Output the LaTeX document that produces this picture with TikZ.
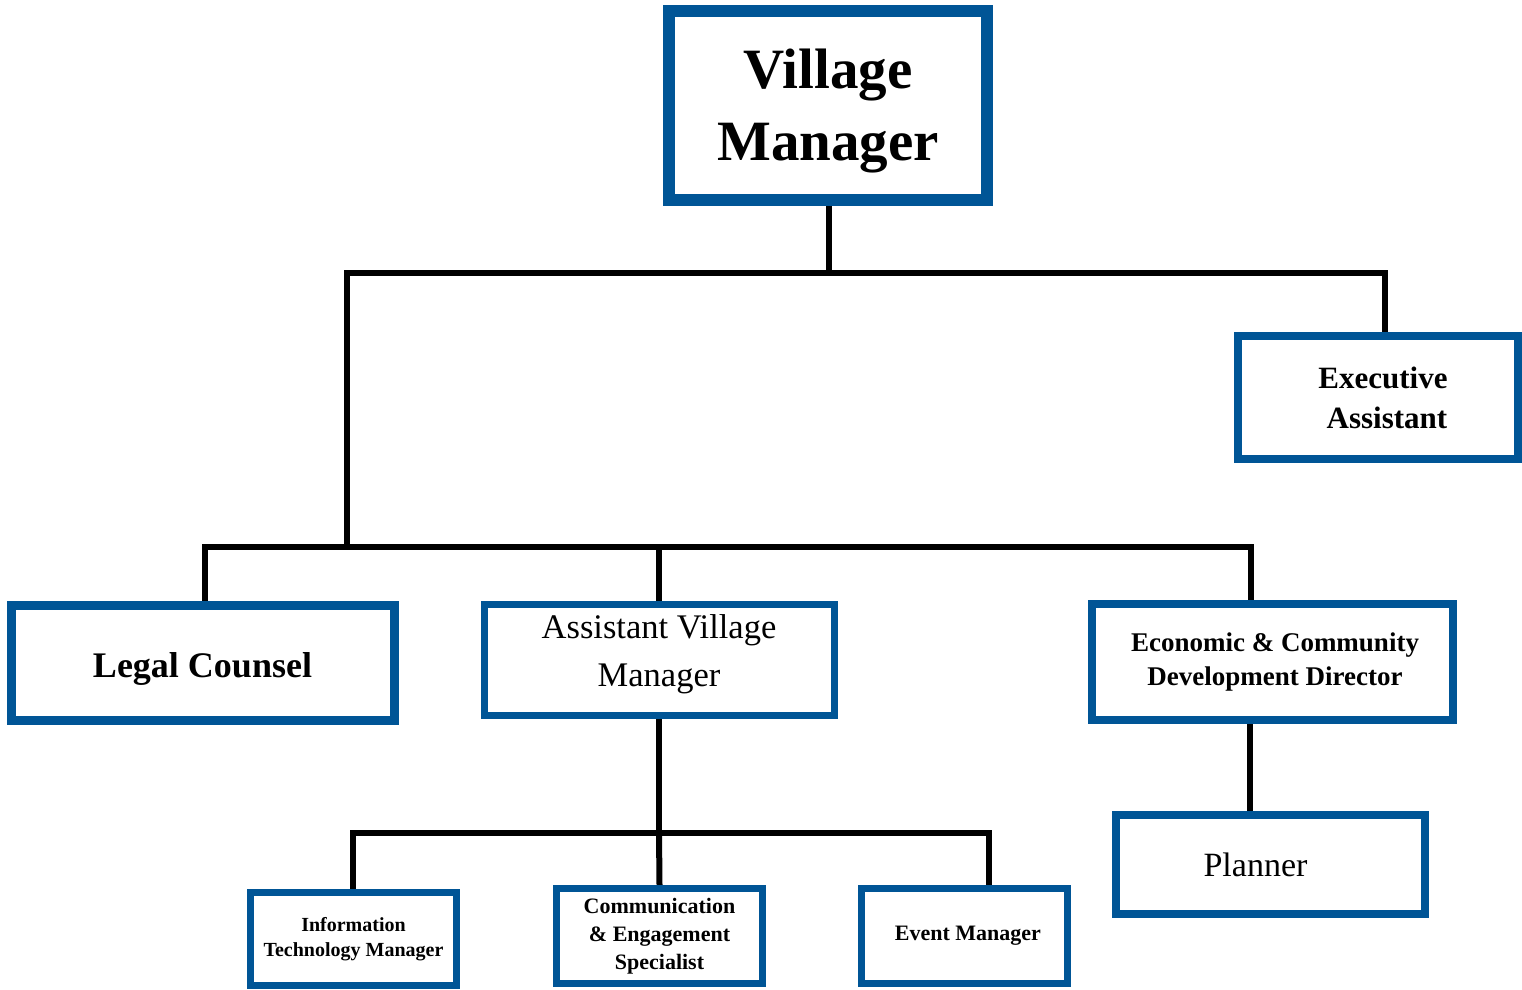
\documentclass[tikz,border=0pt]{standalone}
\usepackage{fontspec}
\setmainfont{Liberation Serif}
\usetikzlibrary{backgrounds}
\definecolor{orgblue}{RGB}{0,85,150}
\newcommand{\fs}[2]{\fontsize{#1}{#2}\selectfont}
\tikzset{
  orgbox/.style={draw=orgblue, fill=white, rectangle, inner sep=0pt,
    align=center, text=black},
  link/.style={draw=black, line width=6pt, line cap=rect}
}
\begin{document}
\begin{tikzpicture}[x=1pt, y=-1pt]
\useasboundingbox (0,0) rectangle (1522,989);

% top level
\node[orgbox, line width=12pt, minimum width=318pt, minimum height=189pt,
      font=\bfseries\fs{57}{72}] (vm) at (828,105.5) {\rule{0pt}{50pt}Village\\Manager};
\node[orgbox, line width=8pt, minimum width=280pt, minimum height=123pt,
      font=\bfseries\fs{31}{40}] (ea) at (1378,397.5) {\hspace*{10pt}Executive\\\hspace*{18pt}Assistant};

% second level
\node[orgbox, line width=9pt, minimum width=383pt, minimum height=115pt,
      font=\bfseries\fs{36}{44}] (lc) at (202.5,662.5) {\rule{0pt}{38pt}Legal Counsel};
\node[orgbox, line width=7pt, minimum width=350pt, minimum height=111pt,
      text depth=18pt, font=\fs{34.5}{48}] (avm) at (659,659.5) {Assistant Village\\Manager};
\node[orgbox, line width=8pt, minimum width=361pt, minimum height=116pt,
      font=\bfseries\fs{27}{34}] (ec) at (1272.5,662) {\hspace*{5pt}Economic \& Community\\\hspace*{5pt}Development Director};

% third level
\node[orgbox, line width=8pt, minimum width=309pt, minimum height=99pt,
      font=\fs{34}{40}] (pl) at (1270.5,864.5) {Planner\hspace*{30pt}};
\node[orgbox, line width=7pt, minimum width=206pt, minimum height=93pt,
      font=\bfseries\fs{20}{25}] (it) at (353.5,939) {Information\\Technology Manager};
\node[orgbox, line width=7pt, minimum width=206pt, minimum height=95pt,
      font=\bfseries\fs{22}{28}] (cm) at (659.5,936) {Communication\\\& Engagement\\Specialist};
\node[orgbox, line width=7pt, minimum width=206pt, minimum height=95pt,
      font=\bfseries\fs{22}{28}] (ev) at (964.5,936) {\hspace*{7pt}Event Manager};

% bus junctions
\coordinate (j1)  at (829,273);
\coordinate (j1l) at (347,273);
\coordinate (j1r) at (1385,273);
\coordinate (j2l) at (205,547);
\coordinate (j2r) at (1251,547);
\coordinate (j3)  at (659,833);
\coordinate (j3l) at (353,833);
\coordinate (j3r) at (989,833);
\coordinate (ep)  at (1250,722);

\begin{scope}[on background layer]
  \draw[link] (j1 |- vm.south) -- (j1);
  \draw[link] (j1l) -- (j1r);
  \draw[link] (j1r) -- (j1r |- ea.north);
  \draw[link] (j1l) -- (j1l |- j2l);
  \draw[link] (j2l) -- (j2r);
  \draw[link] (j2l) -- (j2l |- lc.north);
  \draw[link] (avm.north |- j2l) -- (avm.north);
  \draw[link] (j2r) -- (j2r |- ec.north);
  \draw[link] (avm.south) -- (j3);
  \draw[link] (j3l) -- (j3r);
  \draw[link] (j3l) -- (j3l |- it.north);
  \draw[link] (j3) -- (cm.north);
  \draw[link] (j3r) -- (j3r |- ev.north);
  \draw[link] (ep |- ec.south) -- (ep |- pl.north);
\end{scope}
\end{tikzpicture}
\end{document}
